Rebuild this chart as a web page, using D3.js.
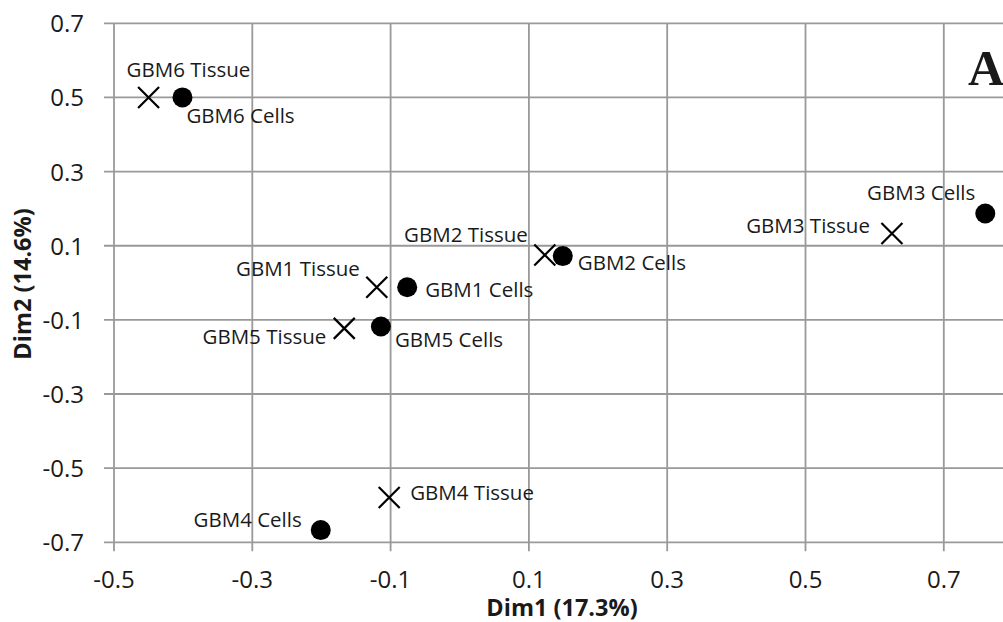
<!DOCTYPE html>
<html>
<head>
<meta charset="utf-8">
<script src="https://cdn.jsdelivr.net/npm/d3@7"></script>
<style>
  body { margin: 0; background: #fff; overflow: hidden; }
  svg { display: block; }
  text { font-family: "Open Sans", sans-serif; fill: #1a1a1a; }
</style>
</head>
<body>
<div id="chart"></div>
<script>
// data
var labels = ["GBM6 Tissue", "GBM6 Cells", "GBM3 Tissue", "GBM3 Cells", "GBM2 Tissue", "GBM2 Cells",
              "GBM1 Tissue", "GBM1 Cells", "GBM5 Tissue", "GBM5 Cells", "GBM4 Tissue", "GBM4 Cells"];
var dim1 = [-0.450, -0.401, 0.625, 0.760, 0.123, 0.149, -0.120, -0.076, -0.167, -0.114, -0.102, -0.201];
var dim2 = [0.500, 0.500, 0.133, 0.187, 0.075, 0.072, -0.012, -0.012, -0.123, -0.118, -0.579, -0.667];
var kind = ["tissue", "cells", "tissue", "cells", "tissue", "cells",
            "tissue", "cells", "tissue", "cells", "tissue", "cells"];
var xTicks = [-0.5, -0.3, -0.1, 0.1, 0.3, 0.5, 0.7];
var yTicks = [0.7, 0.5, 0.3, 0.1, -0.1, -0.3, -0.5, -0.7];

// label placement: [anchor, dx, dy] relative to the marker
var labelPos = [["start", -22, -20], ["start", 4, 26], ["end", -22, 0], ["end", -10, -13],
                ["end", -17, -13], ["start", 15, 14], ["end", -17, -11], ["start", 18, 10],
                ["end", -18, 16], ["start", 14, 20], ["start", 21, 3], ["end", -19, -3]];

var width = 1003, height = 622;

// plot runs past the right edge of the picture (cropped at about 0.79)
var x = d3.scaleLinear().domain([-0.5, 0.9]).range([114, 114 + 7 * 138.3]);
var y = d3.scaleLinear().domain([-0.7, 0.7]).range([542.3, 23.3]);

var svg = d3.select("#chart")
    .append("svg")
    .attr("width", width)
    .attr("height", height);

var fmt = function(d) { return d3.format(".1f")(d).replace("−", "-"); };

// gridlines
svg.append("g").selectAll("line")
    .data(xTicks.concat([0.9]))
    .enter()
    .append("line")
    .attr("x1", function(d) { return x(d); })
    .attr("x2", function(d) { return x(d); })
    .attr("y1", y(0.7))
    .attr("y2", y(-0.7) + 9)
    .style("stroke", "#999")
    .style("stroke-width", 1.8);

svg.append("g").selectAll("line")
    .data(yTicks)
    .enter()
    .append("line")
    .attr("x1", x(-0.5) - 10)
    .attr("x2", x(0.9))
    .attr("y1", function(d) { return y(d); })
    .attr("y2", function(d) { return y(d); })
    .style("stroke", "#999")
    .style("stroke-width", 1.8);

// tick labels
svg.append("g").selectAll("text")
    .data(xTicks)
    .enter()
    .append("text")
    .attr("x", function(d) { return x(d); })
    .attr("y", 588)
    .attr("text-anchor", "middle")
    .style("font-size", "24px")
    .text(fmt);

svg.append("g").selectAll("text")
    .data(yTicks)
    .enter()
    .append("text")
    .attr("x", 84)
    .attr("y", function(d) { return y(d) + 9; })
    .attr("text-anchor", "end")
    .style("font-size", "24px")
    .text(fmt);

// axis titles
svg.append("text")
    .attr("x", 562)
    .attr("y", 616)
    .attr("text-anchor", "middle")
    .style("font-size", "23.5px")
    .style("font-weight", "bold")
    .text("Dim1 (17.3%)");

svg.append("text")
    .attr("transform", "translate(31,284) rotate(-90)")
    .attr("text-anchor", "middle")
    .style("font-size", "23.5px")
    .style("font-weight", "bold")
    .text("Dim2 (14.6%)");

// panel letter
svg.append("text")
    .attr("x", 968)
    .attr("y", 85)
    .style("font-family", "'Liberation Serif', serif")
    .style("font-size", "50px")
    .style("font-weight", "bold")
    .text("A");

var idx = d3.range(labels.length);

// cells: filled circles
svg.append("g").selectAll("circle")
    .data(idx.filter(function(i) { return kind[i] === "cells"; }))
    .enter()
    .append("circle")
    .attr("cx", function(i) { return x(dim1[i]); })
    .attr("cy", function(i) { return y(dim2[i]); })
    .attr("r", 10)
    .style("fill", "#000");

// tissue: crosses
var s = 10.5;
svg.append("g").selectAll("path")
    .data(idx.filter(function(i) { return kind[i] === "tissue"; }))
    .enter()
    .append("path")
    .attr("d", function(i) {
        var cx = x(dim1[i]), cy = y(dim2[i]);
        return "M" + (cx - s) + "," + (cy - s) + "L" + (cx + s) + "," + (cy + s) +
               "M" + (cx - s) + "," + (cy + s) + "L" + (cx + s) + "," + (cy - s);
    })
    .style("stroke", "#000")
    .style("stroke-width", 2.2)
    .style("fill", "none");

// point labels
svg.append("g").selectAll("text")
    .data(idx)
    .enter()
    .append("text")
    .attr("x", function(i) { return x(dim1[i]) + labelPos[i][1]; })
    .attr("y", function(i) { return y(dim2[i]) + labelPos[i][2]; })
    .attr("text-anchor", function(i) { return labelPos[i][0]; })
    .style("font-size", "20.5px")
    .text(function(i) { return labels[i]; });
</script>
</body>
</html>
